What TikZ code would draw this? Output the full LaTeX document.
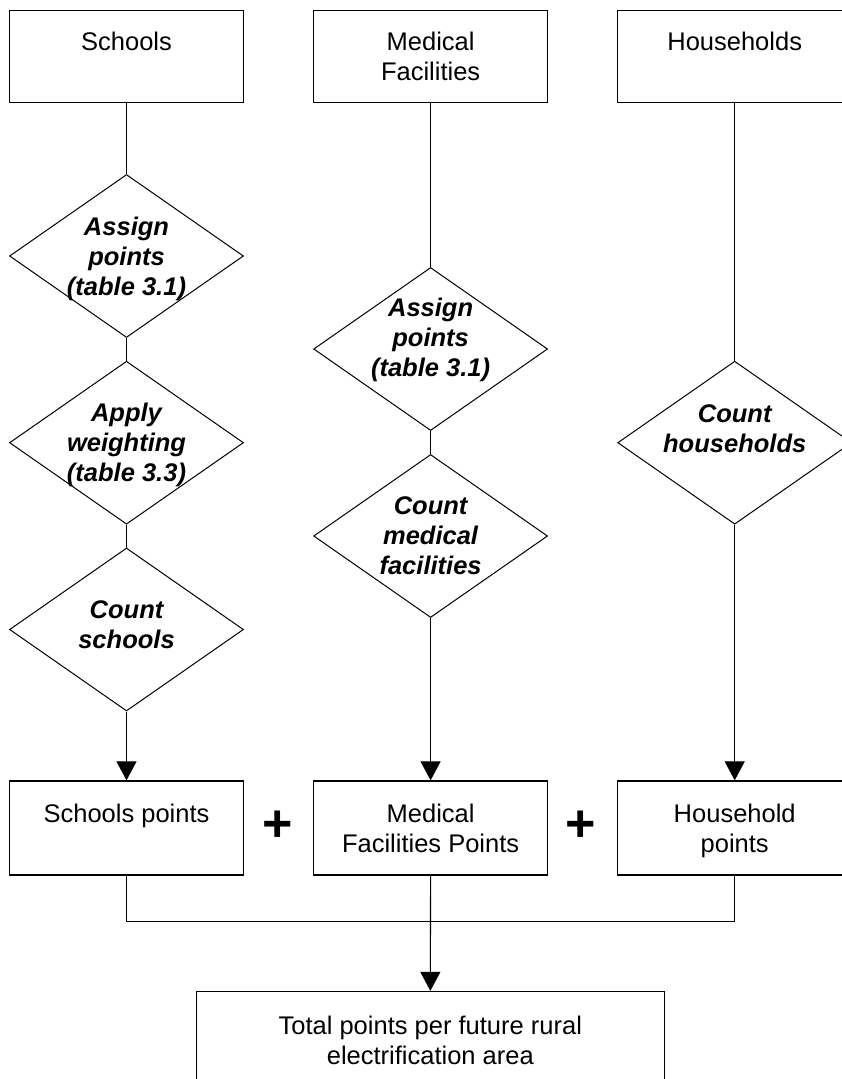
\documentclass[tikz,border=0pt]{standalone}
\usepackage{fontspec}
\setmainfont{Liberation Sans}
\usetikzlibrary{shapes.geometric,arrows.meta}
\begin{document}
\begin{tikzpicture}[x=1pt,y=-1pt,
  every node/.style={font=\fontsize{25.5}{30}\selectfont},
  box/.style={draw,line width=1.3pt,minimum width=234pt,minimum height=92pt,inner sep=0pt,align=center,text depth=0pt},
  dia/.style={draw,shape=diamond,line width=1pt,minimum width=234pt,minimum height=163pt,inner sep=0pt},
  dtxt/.style={font=\fontsize{25.5}{30}\selectfont\bfseries\itshape,align=center,inner sep=0pt,text depth=0pt},
  conn/.style={line width=1.1pt},
  arr/.style={conn,-{Triangle[width=20pt,length=19pt]}},
  plus/.style={font=\fontsize{52}{60}\selectfont\bfseries,inner sep=0pt}
]
\useasboundingbox (0,0) rectangle (842,1079);

% top boxes
\node[box,text depth=-6pt] (s) at (126.5,56.7) {Schools\\\mbox{}};
\node[box,text depth=-6pt] (m) at (430.6,56.7) {Medical\\Facilities};
\node[box,text depth=-6pt] (h) at (734.7,56.7) {Households\\\mbox{}};

% diamonds
\node[dia] (sd1) at (126.5,256) {};
\node[dtxt] (sd1t) at (sd1.center) {Assign\\points\\(table 3.1)};
\node[dia] (sd2) at (126.5,442.7) {};
\node[dtxt] (sd2t) at (sd2.center) {Apply\\weighting\\(table 3.3)};
\node[dia] (sd3) at (126.5,629.5) {};
\node[dtxt,yshift=4.5pt] (sd3t) at (sd3.center) {Count\\schools};

\node[dia] (md1) at (430.6,349) {};
\node[dtxt,yshift=12pt] (md1t) at (md1.center) {Assign\\points\\(table 3.1)};
\node[dia] (md2) at (430.6,536) {};
\node[dtxt] (md2t) at (md2.center) {Count\\medical\\facilities};

\node[dia] (hd) at (734.7,442.7) {};
\node[dtxt,yshift=14.5pt] (hdt) at (hd.center) {Count\\households};

% bottom boxes
\node[box,minimum height=94pt,text depth=-4pt] (sp) at (126.5,828) {Schools points\\\mbox{}};
\node[box,minimum height=94pt,text depth=-4pt] (mp) at (430.6,828) {Medical\\Facilities Points};
\node[box,minimum height=94pt,text depth=-4pt] (hp) at (734.7,828) {Household\\points};

\node[plus] (p1) at (277.3,826) {+};
\node[plus] (p2) at (581,826) {+};

\node[box,minimum width=468pt,minimum height=97pt] (tot) at (430.3,1040) {Total points per future rural\\electrification area};

% connectors
\draw[conn] (s.south) -- (sd1.north);
\draw[conn] (sd1.south) -- (sd2.north);
\draw[conn] (sd2.south) -- (sd3.north);
\draw[arr] (sd3.south) -- (sp.north);

\draw[conn] (m.south) -- (md1.north);
\draw[conn] (md1.south) -- (md2.north);
\draw[arr] (md2.south) -- (mp.north);

\draw[conn] (h.south) -- (hd.north);
\draw[arr] (hd.south) -- (hp.north);

\coordinate (j) at (430.6,921.3);
\draw[conn] (sp.south) |- (j) -| (hp.south);
\draw[arr] (mp.south) -- (tot.north);
\end{tikzpicture}
\end{document}
